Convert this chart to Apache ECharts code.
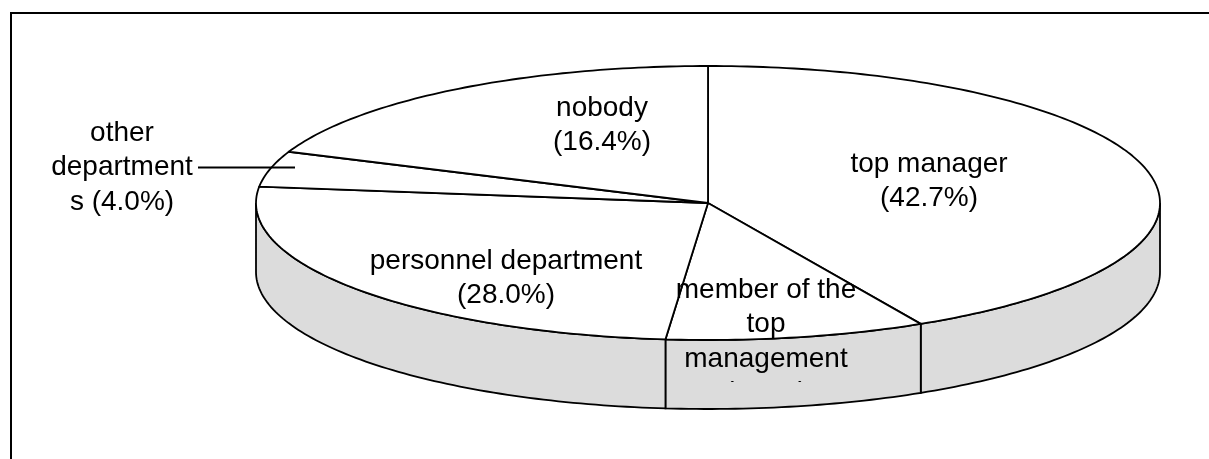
<!DOCTYPE html>
<html>
<head>
<meta charset="utf-8">
<style>html,body{margin:0;padding:0;background:#fff}#chart{width:1209px;height:459px}</style>
<script src="https://cdn.jsdelivr.net/npm/echarts@6/dist/echarts.min.js"></script>
</head>
<body>
<div id="chart"></div>
<script>
// clockwise from 12 o'clock, same order as the picture
const categories = ['top manager', 'member of the top management', 'personnel department', 'other departments', 'nobody'];
// percentages printed in the labels
const statedPercent = [42.7, 8.9, 28.0, 4.0, 16.4];
// share of the turn each wedge really takes in the picture (the original 3D projection
// does not follow the printed numbers exactly, so these are read off the spoke ends)
const drawnShare = [42.2, 9.3, 25.4, 4.2, 18.9];
// how each label wraps, the last line holds the percentage
const labelLines = [
    ['top manager'],
    ['member of the', 'top', 'management'],
    ['personnel department'],
    ['other', 'department'],
    ['nobody']
];

const FONT = '"Liberation Sans", Arial, sans-serif';
const INK = '#000';
const SIDE = '#dcdcdc';
const LINE = 1.8;

const CX = 708, CY = 203, RX = 452, RY = 137, DEPTH = 69;
// label box: x centre, top, and height it may use (text past that is cut, as in the reference)
const labelBox = [
    { x: 929, y: 147 },
    { x: 766, y: 273, h: 109 },
    { x: 506, y: 244 },
    { x: 122, y: 116 },
    { x: 602, y: 91 }
];

function rimPoint(turn, drop) {
    const t = turn * 2 * Math.PI;
    return [CX + RX * Math.sin(t), CY - RY * Math.cos(t) + (drop || 0)];
}

// walk the rim between two fractions of a turn
function rimPath(from, to, drop) {
    const pts = [];
    const steps = Math.max(2, Math.ceil(Math.abs(to - from) * 360));
    for (let i = 0; i <= steps; i++) {
        pts.push(rimPoint(from + (to - from) * i / steps, drop));
    }
    return pts;
}

const total = drawnShare.reduce((a, b) => a + b, 0);
const starts = [];
drawnShare.reduce((acc, v, i) => { starts[i] = acc; return acc + v; }, 0);

function renderSlice(params, api) {
    const from = api.value(0) / total;
    const to = from + api.value(1) / total;
    const children = [];

    // visible side wall: only the front half of the rim
    const a = Math.max(from, 0.25), b = Math.min(to, 0.75);
    if (b > a) {
        const top = rimPath(a, b, 0);
        const bottom = rimPath(b, a, DEPTH);
        children.push({
            type: 'polygon',
            shape: { points: top.concat(bottom) },
            style: { fill: SIDE, stroke: INK, lineWidth: LINE }
        });
    }
    children.push({
        type: 'polygon',
        shape: { points: [[CX, CY]].concat(rimPath(from, to, 0)) },
        style: { fill: '#fff', stroke: INK, lineWidth: LINE, lineJoin: 'round' }
    });
    return { type: 'group', children: children };
}

function renderLabel(params) {
    const i = params.dataIndex;
    const box = labelBox[i];
    const lines = labelLines[i].slice();
    const pct = '(' + statedPercent[i].toFixed(1) + '%)';
    // "departments" breaks mid-word in the reference, the s shares the line with the number
    if (i === 3) lines.push('s ' + pct); else lines.push(pct);
    const el = {
        type: 'text',
        x: box.x,
        y: box.y,
        style: {
            text: lines.join('\n'),
            font: '28px ' + FONT,
            lineHeight: 34.5,
            fill: INK,
            align: 'center',
            verticalAlign: 'top'
        }
    };
    if (box.h) {
        el.clipPath = { type: 'rect', shape: { x: -150, y: 0, width: 300, height: box.h } };
    }
    return el;
}

const chart = echarts.init(document.getElementById('chart'), null, { renderer: 'canvas' });
chart.setOption({
    animation: false,
    backgroundColor: '#fff',
    series: [
        {
            type: 'custom',
            coordinateSystem: 'none',
            silent: true,
            clip: false,
            renderItem: renderSlice,
            data: categories.map((name, i) => ({ name: name, value: [starts[i], drawnShare[i]] }))
        },
        {
            type: 'custom',
            coordinateSystem: 'none',
            silent: true,
            clip: false,
            z: 5,
            renderItem: renderLabel,
            data: categories.map((name, i) => ({ name: name, value: [statedPercent[i]] }))
        }
    ],
    graphic: [
        { type: 'line', silent: true, z: 10, shape: { x1: 11, y1: 459, x2: 11, y2: 12 }, style: { stroke: INK, lineWidth: 2 } },
        { type: 'line', silent: true, z: 10, shape: { x1: 10, y1: 13, x2: 1209, y2: 13 }, style: { stroke: INK, lineWidth: 2 } },
        // leader line of the small wedge
        { type: 'line', silent: true, z: 10, shape: { x1: 198, y1: 167.5, x2: 295, y2: 167.5 }, style: { stroke: INK, lineWidth: LINE } }
    ]
});
</script>
</body>
</html>
